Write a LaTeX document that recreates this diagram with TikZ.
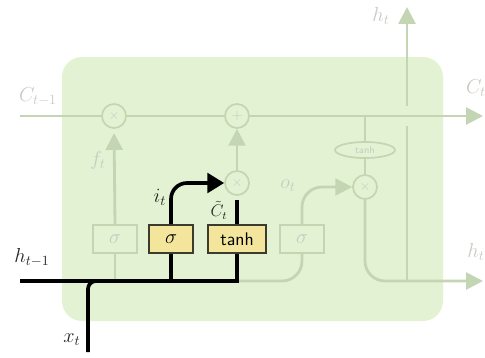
\documentclass[tikz,border=0pt]{standalone}
\usetikzlibrary{arrows.meta,shapes.geometric}
\definecolor{cellbg}{HTML}{E3F2D2}
\definecolor{fadegreen}{HTML}{C4D5B3}
\definecolor{fadegray}{HTML}{C6CCC3}
\definecolor{gateyellow}{HTML}{F3E69C}
\definecolor{gateedge}{HTML}{3B3B2E}
\begin{document}
\begin{tikzpicture}[x=0.025cm,y=-0.025cm,>=stealth,
    fadeline/.style={draw=fadegreen,line width=2pt},
    hiline/.style={draw=black,line width=2.6pt},
    fadebox/.style={draw=fadegreen,line width=1.2pt,fill=cellbg,minimum width=1.1cm,minimum height=0.7cm,text=fadegray,font=\Large},
    gatebox/.style={draw=gateedge,line width=1.4pt,fill=gateyellow,minimum height=0.7cm,inner sep=1pt,font=\sffamily\fontsize{13}{15}\selectfont},
    mulnode/.style={circle,draw=fadegreen,line width=1.2pt,fill=cellbg,minimum size=0.6cm,inner sep=0pt,text=fadegray},
    fadelabel/.style={text=fadegray,font=\Large},
    hilabel/.style={text=black!85,font=\Large,inner sep=1pt},
    fadetip/.style={-{Triangle[width=12pt,length=12pt]}}]
    \useasboundingbox (0,0) rectangle (485,357);
    % cell background
    \fill[cellbg,rounded corners=0.5cm] (62,57) rectangle (443,321);
    % pointwise operations
    \node[mulnode] (fmul) at (114,116) {$\times$};
    \node[mulnode] (cadd) at (237,116) {$+$};
    \node[mulnode] (imul) at (237,183) {$\times$};
    \node[mulnode] (omul) at (365,187) {$\times$};
    \node[ellipse,draw=fadegreen,line width=1.2pt,minimum width=1.5cm,minimum height=0.4cm,inner sep=0pt,text=fadegray,font=\sffamily\scriptsize] (ctanh) at (365,150) {tanh};
    % gates
    \node[fadebox] (fgate) at (115,239) {$\sigma$};
    \node[gatebox,minimum width=1.12cm,font=\Large] (igate) at (171,239) {$\sigma$};
    \node[gatebox,minimum width=1.47cm] (cgate) at (237,239) {tanh};
    \node[fadebox] (ogate) at (302,239) {$\sigma$};
    % free ends
    \coordinate (cin) at (20,116);
    \coordinate (cout) at (483,116);
    \coordinate (hin) at (20,281);
    \coordinate (hout) at (483,281);
    \coordinate (xin) at (88,352);
    \coordinate (hsplit) at (407,281);
    \coordinate (hopbot) at (407,126);
    \coordinate (hoptop) at (407,106);
    \coordinate (htop) at (407,7);
    % faded paths
    \draw[fadeline] (cin) -- (fmul.west);
    \draw[fadeline] (fmul.east) -- (cadd.west);
    \draw[fadeline,fadetip] (cadd.east) -- (cout);
    \draw[fadeline] (fgate.south |- hin) -- (fgate.south);
    \draw[fadeline,fadetip,shorten >=3pt] (fgate.north) -- (fmul.south);
    \draw[fadeline,fadetip] (imul.north) -- (cadd.south);
    \draw[fadeline,rounded corners=0.5cm] (cgate.south |- hin) -- (ogate.south |- hin) -- (ogate.south);
    \draw[fadeline,fadetip,rounded corners=0.5cm] (ogate.north) |- (omul.west);
    \draw[fadeline] (ctanh.north |- cin) -- (ctanh.north);
    \draw[fadeline] (ctanh.south) -- (omul.north);
    \draw[fadeline,fadetip,rounded corners=0.5cm] (omul.south) |- (hout);
    \draw[fadeline] (hsplit) -- (hopbot);
    \draw[fadeline,fadetip] (hoptop) -- (htop);
    % input gate path
    \draw[hiline,rounded corners=0.2cm] (xin) |- (igate.south |- hin);
    \draw[hiline] (hin) -| (cgate.south);
    \draw[hiline] (igate.south |- hin) -- (igate.south);
    \draw[hiline,-{Triangle[width=14pt,length=12pt]},rounded corners=0.4cm] (igate.north) |- (imul.west);
    \draw[hiline,shorten >=3pt] (cgate.north) -- (imul.south);
    % labels
    \node[hilabel] (hprev) at (32,258) {$h_{t-1}$};
    \node[hilabel] (xlab) at (72,340) {$x_t$};
    \node[hilabel] (ilab) at (160,197) {$i_t$};
    \node[hilabel,font=\large] (ctlab) at (219,210) {$\tilde{C}_t$};
    \node[fadelabel] (cprev) at (38,97) {$C_{t-1}$};
    \node[fadelabel] (cnext) at (476,88) {$C_t$};
    \node[fadelabel] (ftlab) at (98,160) {$f_t$};
    \node[fadelabel] (otlab) at (288,186) {$o_t$};
    \node[fadelabel] (htup) at (381,16) {$h_t$};
    \node[fadelabel] (htright) at (476,252) {$h_t$};
\end{tikzpicture}
\end{document}
